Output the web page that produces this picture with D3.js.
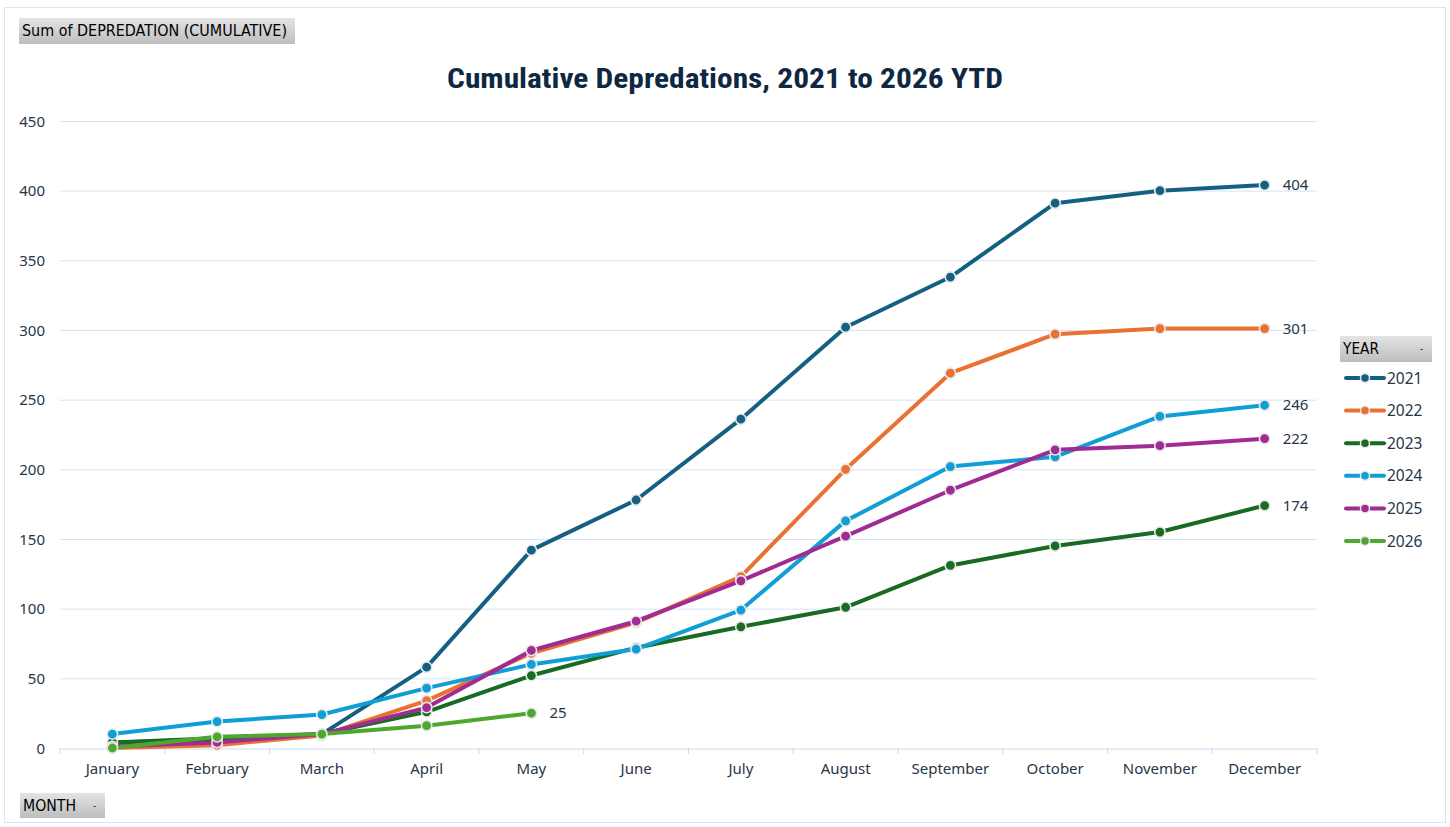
<!DOCTYPE html>
<html><head><meta charset="utf-8">
<script src="https://cdn.jsdelivr.net/npm/d3@7"></script>
<style>
html,body{margin:0;padding:0;background:#fff;}
svg{display:block;}
</style></head>
<body>
<svg id="chart" width="1450" height="827"></svg>
<script>
const months = ["January","February","March","April","May","June","July","August","September","October","November","December"];
const years = ["2021","2022","2023","2024","2025","2026"];
const colors = ["#156082","#E97132","#196B24","#0F9ED5","#A02B93","#4EA72E"];
const v2021 = [4,6,10,58,142,178,236,302,338,391,400,404];
const v2022 = [0,2,9,34,68,90,123,200,269,297,301,301];
const v2023 = [4,7,10,26,52,72,87,101,131,145,155,174];
const v2024 = [10,19,24,43,60,71,99,163,202,209,238,246];
const v2025 = [1,4,10,29,70,91,120,152,185,214,217,222];
const v2026 = [0,8,10,16,25];
const yTicks = [0,50,100,150,200,250,300,350,400,450];
const titleText = "Cumulative Depredations, 2021 to 2026 YTD";

const series = years.map((y,i)=>({year:y,color:colors[i],values:[v2021,v2022,v2023,v2024,v2025,v2026][i]}));

const svg = d3.select("#chart");
const L=60,R=1317,T=121,B=748;
const x = d3.scaleBand().domain(months).range([L,R]);
const y = d3.scaleLinear().domain([0,450]).range([B,T]);
const font = "'Noto Sans', 'Liberation Sans', sans-serif";
const txtCol = "#26364a";

// frame
svg.append("rect").attr("x",4.5).attr("y",7.5).attr("width",1441).attr("height",815)
  .attr("fill","#fff").attr("stroke","#dbe5f1").attr("stroke-width",1);

// gradient for buttons
const defs = svg.append("defs");
const g = defs.append("linearGradient").attr("id","btn").attr("x1",0).attr("y1",0).attr("x2",0).attr("y2",1);
g.append("stop").attr("offset","0%").attr("stop-color","#e4e4e4");
g.append("stop").attr("offset","100%").attr("stop-color","#bdbdbd");

function button(x0,y0,w,h,label,tl,arrow){
  const gb = svg.append("g");
  gb.append("rect").attr("x",x0).attr("y",y0).attr("width",w).attr("height",h).attr("fill","url(#btn)");
  gb.append("text").attr("x",x0+3).attr("y",y0+h/2+5).attr("font-family","'DejaVu Sans Condensed','DejaVu Sans',sans-serif")
    .attr("font-size",15).attr("fill","#000").attr("textLength",tl).attr("lengthAdjust","spacingAndGlyphs").text(label);
  if(arrow) gb.append("text").attr("x",x0+w-12).attr("y",y0+h/2+3).attr("font-size",10).attr("font-family",font).attr("fill","#333").text("-");
}
button(19,18,276,26,"Sum of DEPREDATION (CUMULATIVE)",265,false);
button(20,793,85,25,"MONTH",53,true);
button(1340,336,92,26,"YEAR",36,true);

// title
svg.append("text").attr("x",725).attr("y",88).attr("text-anchor","middle")
  .attr("font-family","'Liberation Sans Narrow','Roboto Condensed','Liberation Sans',sans-serif")
  .attr("font-weight","bold").attr("font-size",27).attr("fill","#0E2841")
  .attr("textLength",556).attr("lengthAdjust","spacingAndGlyphs").text(titleText);

// gridlines
svg.append("g").selectAll("line").data(yTicks.filter(d=>d>0)).join("line")
  .attr("x1",L).attr("x2",R).attr("y1",d=>y(d)+0.5).attr("y2",d=>y(d)+0.5)
  .attr("stroke","#d6e4f4").attr("stroke-width",1);

// y axis labels
const yAxis = svg.append("g").attr("transform",`translate(45,0)`)
  .call(d3.axisLeft(y).tickValues(yTicks).tickSize(0).tickPadding(0));
yAxis.select(".domain").remove();
yAxis.selectAll("text").attr("font-family",font).attr("font-size",15).attr("fill",txtCol).attr("dy","0.35em");

// x axis
const xAxis = svg.append("g").attr("transform",`translate(0,${B+0.5})`)
  .call(d3.axisBottom(x).tickSize(0).tickPadding(15));
xAxis.select(".domain").attr("stroke","#c9d9ee");
xAxis.selectAll("text").attr("font-family",font).attr("font-size",15).attr("fill",txtCol);
svg.append("g").selectAll("line").data(months.concat(["end"])).join("line")
  .attr("x1",(d,i)=>i<12?x(d):R).attr("x2",(d,i)=>i<12?x(d):R)
  .attr("y1",B).attr("y2",B+6).attr("stroke","#c9d9ee");

// lines
const cx = d=>x(d)+x.bandwidth()/2;
const line = d3.line().x((d,i)=>cx(months[i])).y(d=>y(d));
const sg = svg.append("g");
series.forEach(s=>{
  const gs = sg.append("g");
  gs.append("path").attr("d",line(s.values)).attr("fill","none").attr("stroke",s.color)
    .attr("stroke-width",4).attr("stroke-linejoin","round");
  gs.selectAll("circle").data(s.values).join("circle")
    .attr("cx",(d,i)=>cx(months[i])).attr("cy",d=>y(d)).attr("r",5.2)
    .attr("fill",s.color).attr("stroke","#e8e8e8").attr("stroke-width",1.6);
  const li = s.values.length-1;
  gs.append("text").attr("x",cx(months[li])+18).attr("y",y(s.values[li])+5)
    .attr("font-family",font).attr("font-size",15).attr("fill",txtCol).text(s.values[li]);
});

// legend
const lg = svg.append("g");
series.forEach((s,i)=>{
  const yy = 378 + i*32.6;
  lg.append("line").attr("x1",1346).attr("x2",1384).attr("y1",yy).attr("y2",yy)
    .attr("stroke",s.color).attr("stroke-width",4).attr("stroke-linecap","round");
  lg.append("circle").attr("cx",1365).attr("cy",yy).attr("r",4.5).attr("fill",s.color)
    .attr("stroke","#e8e8e8").attr("stroke-width",1.5);
  lg.append("text").attr("x",1387).attr("y",yy+5.5).attr("font-family",font).attr("font-size",15.5)
    .attr("fill",txtCol).text(s.year);
});
</script>
</body></html>
